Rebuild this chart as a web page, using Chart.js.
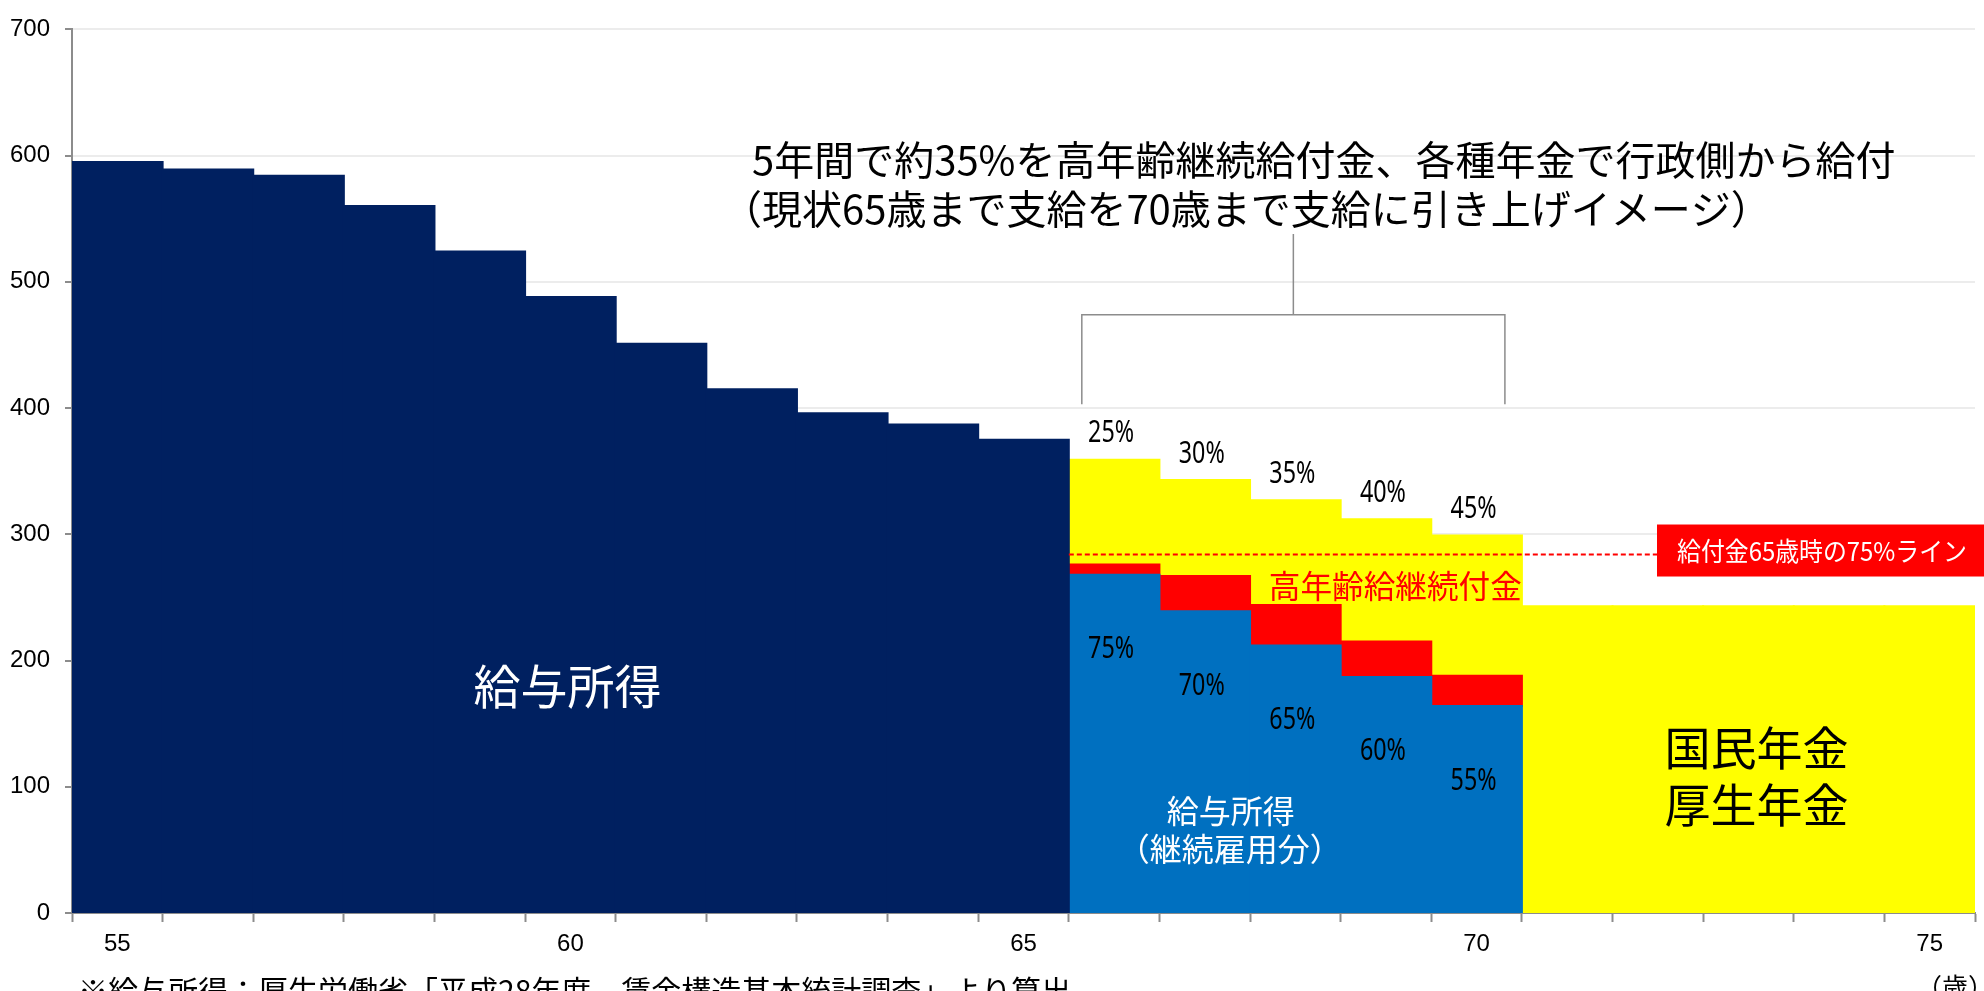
<!DOCTYPE html>
<html lang="ja">
<head>
<meta charset="utf-8">
<title>給与所得と年金</title>
<script src="https://cdn.jsdelivr.net/npm/chart.js@4.4.1/dist/chart.umd.min.js"></script>
<style>
  html, body { margin: 0; padding: 0; background: #fff; }
  #wrap { width: 1984px; height: 991px; position: relative; }
</style>
</head>
<body>
<div id="wrap"><canvas id="incomeChart"></canvas></div>
<script>
// x categories (age)
const ages = ['55', '56', '57', '58', '59', '60', '61', '62', '63', '64', '65',
              '66', '67', '68', '69', '70', '71', '72', '73', '74', '75'];
const xTickLabels = ['55', '60', '65', '70', '75'];

// 給与所得 (55-65)
const salary = [595, 589, 584, 560, 524, 488, 451, 415, 396, 387, 375,
                null, null, null, null, null, null, null, null, null, null];
// 給与所得（継続雇用分）
const continuedSalary = [null, null, null, null, null, null, null, null, null, null, null,
                         268, 239, 212, 187, 164, null, null, null, null, null];
// 高年齢継続給付金
const benefit = [null, null, null, null, null, null, null, null, null, null, null,
                 8, 28, 32, 28, 24, null, null, null, null, null];
// 国民年金・厚生年金
const pension = [null, null, null, null, null, null, null, null, null, null, null,
                 83, 76, 83, 97, 111, 243, 243, 243, 243, 243];

// share labels for ages 66-70
const shareAges = ['66', '67', '68', '69', '70'];
const govShare = ['25%', '30%', '35%', '40%', '45%'];
const salaryShare = ['75%', '70%', '65%', '60%', '55%'];

// 給付金65歳時の75%ライン
const line75 = 284;

const NAVY = '#002060';
const BLUE = '#0070C0';
const RED = '#FF0000';
const YELLOW = '#FFFF00';
const JP = "'Noto Sans CJK JP', 'Noto Sans', sans-serif";

function drawText(ctx, str, px, py, font, color, align, maxWidth) {
    ctx.font = font;
    ctx.fillStyle = color;
    ctx.textAlign = align || 'center';
    ctx.textBaseline = 'middle';
    if (maxWidth) ctx.fillText(str, px, py, maxWidth);
    else ctx.fillText(str, px, py);
}

const annotations = {
    id: 'annotations',
    afterDatasetsDraw(chart) {
        const { ctx, scales: { x, y } } = chart;
        const cw = x.getPixelForValue(1) - x.getPixelForValue(0);
        const colLeft = i => x.getPixelForValue(i) - cw / 2;
        const colRight = i => x.getPixelForValue(i) + cw / 2;
        ctx.save();

        // 75% line + label box
        const ly = y.getPixelForValue(line75);
        const boxW = 327;
        const boxX = chart.width - boxW;
        ctx.strokeStyle = RED;
        ctx.lineWidth = 2;
        ctx.setLineDash([5, 3]);
        ctx.beginPath();
        ctx.moveTo(colLeft(ages.indexOf('66')), ly);
        ctx.lineTo(boxX, ly);
        ctx.stroke();
        ctx.setLineDash([]);
        ctx.fillStyle = RED;
        ctx.fillRect(boxX, ly - 30, boxW, 52);
        drawText(ctx, '給付金65歳時の75%ライン', boxX + 165, ly - 3, '26px ' + JP, '#fff', 'center', 290);

        // share labels
        shareAges.forEach((a, k) => {
            const i = ages.indexOf(a);
            const cx = x.getPixelForValue(i) - 3;
            const total = continuedSalary[i] + benefit[i] + pension[i];
            drawText(ctx, govShare[k], cx, y.getPixelForValue(total) - 26, "30px 'Noto Sans', sans-serif", '#000', 'center', 46);
            drawText(ctx, salaryShare[k], cx, y.getPixelForValue(continuedSalary[i]) + 75, "30px 'Noto Sans', sans-serif", '#000', 'center', 46);
        });

        // area labels
        drawText(ctx, '給与所得', x.getPixelForValue(5) - 3, y.getPixelForValue(180), '47px ' + JP, '#fff');
        drawText(ctx, '給与所得', x.getPixelForValue(12) + 26, y.getPixelForValue(81), '32px ' + JP, '#fff');
        drawText(ctx, '（継続雇用分）', x.getPixelForValue(12) + 25, y.getPixelForValue(51), '32px ' + JP, '#fff');
        drawText(ctx, '高年齢給継続付金', x.getPixelForValue(13) + 100, y.getPixelForValue(259), '32px ' + JP, RED, 'center', 253);
        drawText(ctx, '国民年金', x.getPixelForValue(18) + 8, y.getPixelForValue(131), '46px ' + JP, '#000');
        drawText(ctx, '厚生年金', x.getPixelForValue(18) + 8, y.getPixelForValue(86), '46px ' + JP, '#000');

        // bracket
        ctx.strokeStyle = '#8c8c8c';
        ctx.lineWidth = 1.5;
        const bl = colLeft(11) + 13;
        const br = colRight(15) - 17;
        const bTop = y.getPixelForValue(474);
        const bBottom = y.getPixelForValue(403);
        const mid = (bl + br) / 2;
        ctx.beginPath();
        ctx.moveTo(bl, bBottom);
        ctx.lineTo(bl, bTop);
        ctx.lineTo(br, bTop);
        ctx.lineTo(br, bBottom);
        ctx.moveTo(mid, bTop);
        ctx.lineTo(mid, y.getPixelForValue(538));
        ctx.stroke();

        // headline
        drawText(ctx, '5年間で約35%を高年齢継続給付金、各種年金で行政側から給付', 752, 160, '40px ' + JP, '#000', 'left', 1152);
        drawText(ctx, '（現状65歳まで支給を70歳まで支給に引き上げイメージ）', 722, 209, '40px ' + JP, '#000', 'left', 1056);

        // footnote and unit
        ctx.font = '30px ' + JP;
        ctx.fillStyle = '#000';
        ctx.textAlign = 'left';
        ctx.textBaseline = 'alphabetic';
        ctx.fillText('※給与所得：厚生労働省「平成28年度　賃金構造基本統計調査」より算出', 78, 1002, 1000);
        ctx.font = '26px ' + JP;
        ctx.textAlign = 'right';
        ctx.fillText('（歳）', 1994, 997);

        ctx.restore();
    }
};

const barBase = { stack: 'a', barPercentage: 1, categoryPercentage: 1, borderWidth: 0, inflateAmount: 1 };

new Chart(document.getElementById('incomeChart'), {
    type: 'bar',
    data: {
        labels: ages,
        datasets: [
            { ...barBase, label: '給与所得', data: salary, backgroundColor: NAVY },
            { ...barBase, label: '給与所得（継続雇用分）', data: continuedSalary, backgroundColor: BLUE },
            { ...barBase, label: '高年齢継続給付金', data: benefit, backgroundColor: RED },
            { ...barBase, label: '国民年金・厚生年金', data: pension, backgroundColor: YELLOW }
        ]
    },
    options: {
        responsive: true,
        maintainAspectRatio: false,
        animation: false,
        layout: { padding: { top: 21, right: 9, left: 0, bottom: 0 } },
        plugins: {
            legend: { display: false },
            tooltip: { enabled: false }
        },
        scales: {
            x: {
                stacked: true,
                afterFit: s => { s.height = 78; },
                border: { color: '#8c8c8c', width: 2 },
                grid: { offset: true, drawOnChartArea: false, drawTicks: true, tickLength: 9, tickColor: '#8c8c8c', tickWidth: 2 },
                ticks: {
                    autoSkip: false,
                    maxRotation: 0,
                    padding: 8,
                    color: '#000',
                    font: { family: "'Liberation Sans', Arial, sans-serif", size: 24 },
                    callback: (v, i) => xTickLabels.includes(ages[i]) ? ages[i] : ''
                }
            },
            y: {
                stacked: true,
                min: 0,
                max: 700,
                afterFit: s => { s.width = 72; },
                border: { color: '#8c8c8c', width: 2 },
                grid: { color: '#ececec', lineWidth: 2, tickLength: 7, tickColor: '#8c8c8c', tickWidth: 2 },
                ticks: {
                    stepSize: 100,
                    padding: 15,
                    color: '#000',
                    font: { family: "'Liberation Sans', Arial, sans-serif", size: 24 }
                }
            }
        }
    },
    plugins: [annotations]
});
</script>
</body>
</html>
